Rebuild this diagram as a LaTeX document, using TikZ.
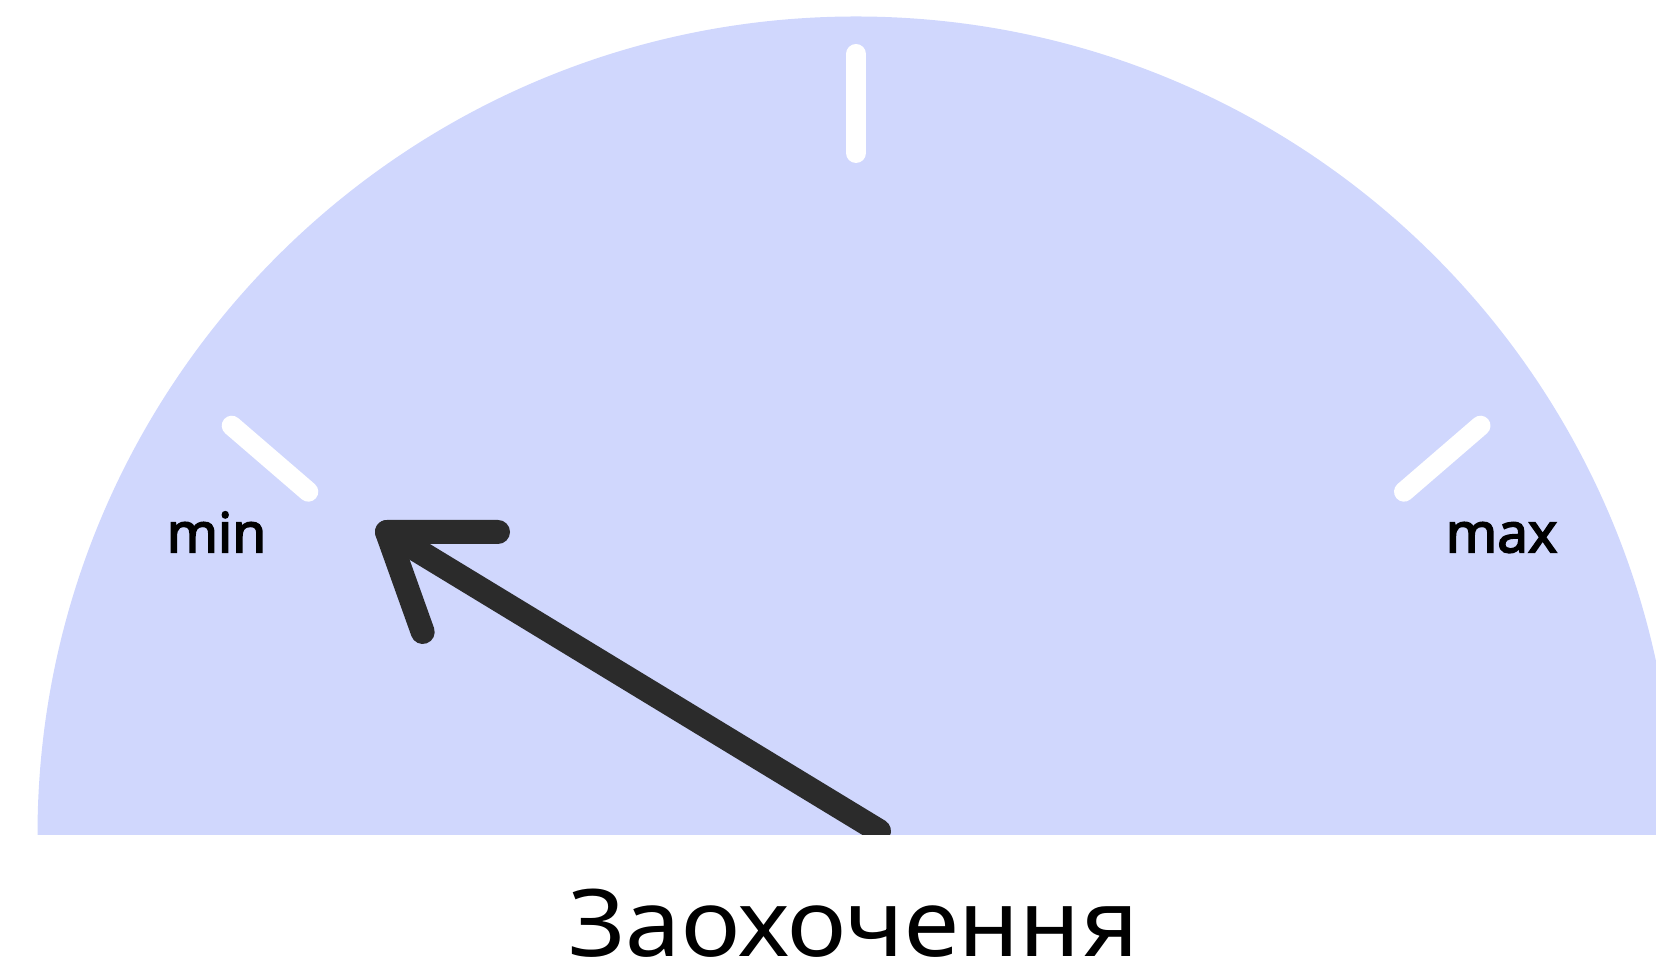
\documentclass[tikz,border=0pt]{standalone}
\usepackage{fontspec}
\setmainfont{Noto Sans}
\newfontfamily\labelfont[FakeBold=3]{Noto Sans}
\newfontfamily\titlefont[FakeStretch=1.07]{Noto Sans}
\definecolor{dialfill}{RGB}{208,215,253}
\definecolor{needle}{RGB}{43,43,43}
\tikzset{
  tickmark/.style={white, line width=20pt, line cap=round},
  needleline/.style={needle, line width=24pt, line cap=round, line join=round},
  scalelabel/.style={inner sep=0pt, anchor=base, font=\labelfont\fontsize{55}{60}\selectfont},
  titlelabel/.style={inner sep=0pt, anchor=base, font=\titlefont\fontsize{93}{100}\selectfont}
}
\begin{document}
\begin{tikzpicture}[x=1pt,y=1pt]
\useasboundingbox (0,0) rectangle (1656,965);
\clip (0,0) rectangle (1656,965);
% dial
\fill[dialfill] (37.5,130) arc[start angle=180, end angle=0, radius=818.5] -- cycle;
% ticks
\coordinate (t1a) at (856,911);
\coordinate (t1b) at (856,812);
\coordinate (t2a) at (231.7,539.3);
\coordinate (t2b) at (308.3,473.3);
\coordinate (t3a) at (1480.5,539.3);
\coordinate (t3b) at (1404,473.3);
\draw[tickmark] (t1a) -- (t1b);
\draw[tickmark] (t2a) -- (t2b);
\draw[tickmark] (t3a) -- (t3b);
% labels
\node[scalelabel] (minlbl) at (216.5,412.7) {min};
\node[scalelabel] (maxlbl) at (1501.5,412.7) {max};
% needle
\coordinate (tip) at (387,433);
\coordinate (barbh) at (498,433);
\coordinate (barbl) at (422.7,333);
\coordinate (base) at (879,134);
\begin{scope}
\clip (0,130) rectangle (1656,965);
\draw[needleline] (barbh) -- (tip) -- (barbl);
\draw[needleline] (tip) -- (base);
\end{scope}
% title
\node[titlelabel] (title) at (853.5,8) {Заохочення};
\end{tikzpicture}
\end{document}
